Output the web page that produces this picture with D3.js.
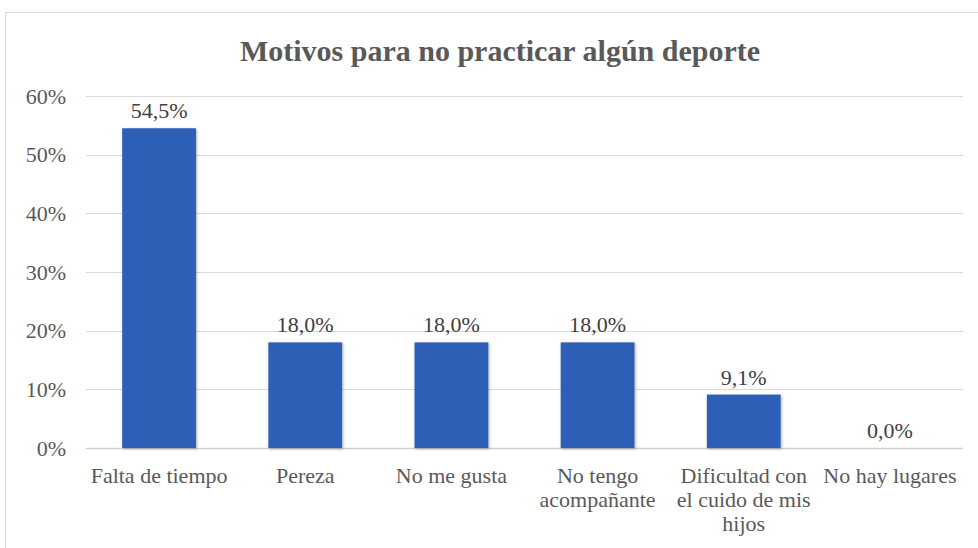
<!DOCTYPE html>
<html><head><meta charset="utf-8">
<script src="https://cdn.jsdelivr.net/npm/d3@7"></script>
<style>body{margin:0;background:#fff;}svg{display:block;}
svg text{font-family:"Liberation Serif","Times New Roman",Tinos,"DejaVu Serif",serif;}
</style>
</head><body>
<svg id="chart" width="978" height="548"></svg>
<script>
const categories = [["Falta de tiempo"],["Pereza"],["No me gusta"],["No tengo","acompañante"],["Dificultad con","el cuido de mis","hijos"],["No hay lugares"]];
const values = [54.5, 18.0, 18.0, 18.0, 9.1, 0.0];
const yTicks = [0,10,20,30,40,50,60];
const title = "Motivos para no practicar algún deporte";

const svg = d3.select("#chart");
const W = 978, H = 548;

const defs = svg.append("defs");
const f = defs.append("filter").attr("id","sh").attr("x","-20%").attr("y","-20%").attr("width","140%").attr("height","140%");
f.append("feDropShadow").attr("dx",1).attr("dy",1).attr("stdDeviation",1.5).attr("flood-color","#000").attr("flood-opacity",0.3);

svg.append("rect").attr("x",5.5).attr("y",12.5).attr("width",W+10).attr("height",H+10)
  .attr("fill","#fff").attr("stroke","#d9d9d9").attr("stroke-width",1);

const x = d3.scaleBand().domain(d3.range(categories.length)).range([86, 963]).paddingInner(0.495).paddingOuter(0.2475);
const y = d3.scaleLinear().domain([0,60]).range([448, 96]);

svg.append("text").attr("x",500).attr("y",61).attr("text-anchor","middle")
  .attr("font-weight","bold").attr("font-size",30).attr("fill","#595959").text(title);

const grid = svg.append("g");
grid.selectAll("line").data(yTicks).join("line")
  .attr("x1",86).attr("x2",963).attr("y1",d=>Math.round(y(d))+0.5).attr("y2",d=>Math.round(y(d))+0.5)
  .attr("stroke",d=>d===0?"#d0d0d0":"#d9d9d9").attr("stroke-width",d=>d===0?1.5:1);

const yAxis = d3.axisLeft(y).tickValues(yTicks).tickFormat(d=>d+"%").tickSize(0).tickPadding(20);
const ya = svg.append("g").attr("transform","translate(86,0)").call(yAxis);
ya.attr("font-family",null);
ya.select(".domain").remove();
ya.selectAll("text").attr("font-size",22).attr("fill","#595959");

svg.append("g").selectAll("rect").data(values).join("rect")
  .attr("x",(d,i)=>x(i)).attr("width",x.bandwidth())
  .attr("y",d=>y(d)).attr("height",d=>y(0)-y(d))
  .attr("fill","#2d5fb6").attr("filter","url(#sh)");

svg.append("g").selectAll("text").data(values).join("text")
  .attr("x",(d,i)=>x(i)+x.bandwidth()/2).attr("y",d=>y(d)-10)
  .attr("text-anchor","middle").attr("font-size",22).attr("fill","#404040")
  .text(d=>d.toFixed(1).replace(".",",")+"%");

const xl = svg.append("g");
categories.forEach((lines,i)=>{
  const t = xl.append("text").attr("text-anchor","middle").attr("font-size",22).attr("fill","#595959");
  lines.forEach((s,j)=>t.append("tspan").attr("x",x(i)+x.bandwidth()/2).attr("y",483+j*24).text(s));
});
</script>
</body></html>
